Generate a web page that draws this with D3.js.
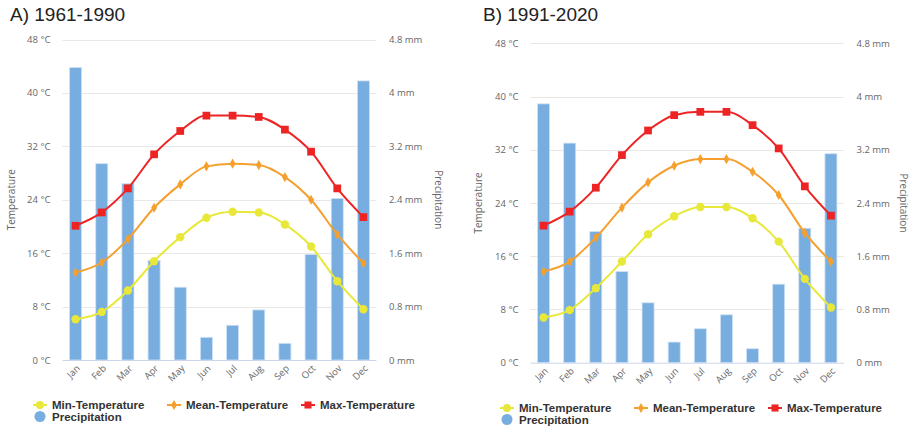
<!DOCTYPE html>
<html>
<head>
<meta charset="utf-8">
<script src="https://cdn.jsdelivr.net/npm/d3@7/dist/d3.min.js"></script>
<style>
  html, body { margin: 0; padding: 0; background: #fff; }
  svg { display: block; }
  .tick-label { font-family: "Open Sans", "DejaVu Sans", sans-serif; font-size: 9.5px; fill: #666; }
  .axis-title { font-family: "Open Sans", "DejaVu Sans", sans-serif; font-size: 10px; fill: #666; }
  .panel-title { font-family: "Liberation Sans", Arial, sans-serif; font-size: 19px; fill: #222; }
  .legend-text { font-family: "Liberation Sans", Arial, sans-serif; font-size: 11.5px; font-weight: bold; fill: #333; }
</style>
</head>
<body>
<svg id="chart" width="911" height="429"></svg>
<script>
// Monthly climate normals, two reference periods
const months = ["Jan", "Feb", "Mar", "Apr", "May", "Jun", "Jul", "Aug", "Sep", "Oct", "Nov", "Dec"];

const tempTicks = [0, 8, 16, 24, 32, 40, 48];
const precTicks = [0, 0.8, 1.6, 2.4, 3.2, 4, 4.8];

// 1961-1990
const precipA = [4.38, 2.94, 2.64, 1.49, 1.09, 0.34, 0.52, 0.75, 0.25, 1.58, 2.42, 4.18];
const minTempA = [6.1, 7.2, 10.4, 14.8, 18.4, 21.3, 22.2, 22.1, 20.3, 17.0, 11.8, 7.6];
const meanTempA = [13.1, 14.6, 18.1, 22.8, 26.3, 29.0, 29.4, 29.2, 27.4, 24.0, 18.8, 14.5];
const maxTempA = [20.1, 22.1, 25.7, 30.8, 34.3, 36.6, 36.6, 36.4, 34.5, 31.2, 25.7, 21.4];

// 1991-2020
const precipB = [3.89, 3.30, 1.97, 1.37, 0.90, 0.31, 0.51, 0.72, 0.21, 1.18, 2.02, 3.14];
const minTempB = [6.8, 7.9, 11.2, 15.2, 19.3, 22.0, 23.4, 23.4, 21.7, 18.2, 12.6, 8.3];
const meanTempB = [13.7, 15.2, 18.8, 23.3, 27.1, 29.6, 30.6, 30.6, 28.7, 25.2, 19.5, 15.2];
const maxTempB = [20.6, 22.7, 26.3, 31.2, 34.9, 37.2, 37.7, 37.7, 35.7, 32.2, 26.5, 22.1];

const colors = {
  precip: "#78addf",
  min: "#e8e83a",
  mean: "#f5a02e",
  max: "#ee2424"
};

const svg = d3.select("#chart");

function drawPanel(cfg) {
  const g = svg.append("g");

  const x = d3.scaleBand().domain(months).range([cfg.left, cfg.right]).paddingInner(0.54).paddingOuter(0.27);
  const yT = d3.scaleLinear().domain([0, 48]).range([cfg.bottom, cfg.top]);
  const yP = d3.scaleLinear().domain([0, 4.8]).range([cfg.bottom, cfg.top]);
  const cx = m => x(m) + x.bandwidth() / 2;

  // title
  g.append("text").attr("class", "panel-title")
    .attr("x", cfg.titleX).attr("y", 21).text(cfg.title);

  // gridlines
  g.append("g").selectAll("line").data(tempTicks.slice(1)).join("line")
    .attr("x1", cfg.left).attr("x2", cfg.right)
    .attr("y1", d => Math.round(yT(d)) + 0.5).attr("y2", d => Math.round(yT(d)) + 0.5)
    .attr("stroke", "#e8e8e8").attr("stroke-width", 1);

  // left axis (temperature)
  const axL = d3.axisLeft(yT).tickValues(tempTicks).tickSize(0).tickPadding(0)
    .tickFormat(d => d + " \u00b0C");
  const gl = g.append("g").attr("transform", `translate(${cfg.left - 12},0)`).call(axL);
  gl.select(".domain").remove();
  gl.selectAll("text").attr("class", "tick-label").attr("fill", null).attr("font-size", null).attr("font-family", null);

  // right axis (precipitation)
  const axR = d3.axisRight(yP).tickValues(precTicks).tickSize(0).tickPadding(0)
    .tickFormat(d => d + " mm");
  const gr = g.append("g").attr("transform", `translate(${cfg.right + 12.5},0)`).call(axR);
  gr.select(".domain").remove();
  gr.selectAll("text").attr("class", "tick-label").attr("fill", null).attr("font-size", null).attr("font-family", null);

  // axis titles
  const midY = (cfg.top + cfg.bottom) / 2;
  g.append("text").attr("class", "axis-title")
    .attr("transform", `translate(${cfg.tempTitleX},${midY}) rotate(-90)`)
    .attr("text-anchor", "middle").text("Temperature");
  g.append("text").attr("class", "axis-title")
    .attr("transform", `translate(${cfg.precTitleX},${midY}) rotate(90)`)
    .attr("text-anchor", "middle").text("Precipitation");

  // precipitation bars
  g.append("g").selectAll("rect").data(months.map((m, i) => ({ m, v: cfg.precip[i] }))).join("rect")
    .attr("x", d => x(d.m)).attr("width", x.bandwidth())
    .attr("y", d => yP(d.v)).attr("height", d => yP(0) - yP(d.v))
    .attr("fill", colors.precip).attr("stroke", "#cfe2f5").attr("stroke-width", 0.8);

  // x axis line and labels
  const axB = d3.axisBottom(x).tickSize(0).tickPadding(0);
  const gb = g.append("g").attr("transform", `translate(0,${cfg.bottom})`).call(axB);
  gb.select(".domain").attr("stroke", "#ccd6eb").attr("d", `M${cfg.left},0.5H${cfg.right}`);
  gb.selectAll("text").attr("class", "tick-label").attr("fill", null).attr("font-size", null).attr("font-family", null)
    .attr("text-anchor", "end").attr("dy", null).attr("y", 0)
    .attr("transform", "translate(5,9) rotate(-45)");

  // temperature series
  const series = [
    { key: "min", values: cfg.min, marker: "circle" },
    { key: "mean", values: cfg.mean, marker: "diamond" },
    { key: "max", values: cfg.max, marker: "square" }
  ];
  const line = d3.line().x((d, i) => cx(months[i])).y(d => yT(d)).curve(d3.curveMonotoneX);
  series.forEach(s => {
    const sg = g.append("g");
    sg.append("path").attr("d", line(s.values)).attr("fill", "none")
      .attr("stroke", colors[s.key]).attr("stroke-width", 2);
    const sym = s.marker === "circle" ? d3.symbolCircle : s.marker === "diamond" ? d3.symbolDiamond : d3.symbolSquare;
    const size = s.marker === "circle" ? 55 : s.marker === "diamond" ? 30 : 60;
    sg.selectAll("path.mk").data(s.values).join("path").attr("class", "mk")
      .attr("d", d3.symbol().type(sym).size(size))
      .attr("transform", (d, i) => `translate(${cx(months[i])},${yT(d)})`)
      .attr("fill", colors[s.key]);
  });

  // legend
  const lg = g.append("g");
  const legendItems = [
    { label: "Min-Temperature", key: "min", marker: "circle" },
    { label: "Mean-Temperature", key: "mean", marker: "diamond" },
    { label: "Max-Temperature", key: "max", marker: "square" }
  ];
  legendItems.forEach((it, i) => {
    const lx = cfg.legendX + i * 134;
    const ly = cfg.legendY;
    lg.append("line").attr("x1", lx - 19).attr("x2", lx - 5).attr("y1", ly).attr("y2", ly)
      .attr("stroke", colors[it.key]).attr("stroke-width", 2);
    const sym = it.marker === "circle" ? d3.symbolCircle : it.marker === "diamond" ? d3.symbolDiamond : d3.symbolSquare;
    const size = it.marker === "circle" ? 50 : it.marker === "diamond" ? 30 : 50;
    lg.append("path").attr("d", d3.symbol().type(sym).size(size))
      .attr("transform", `translate(${lx - 12},${ly})`).attr("fill", colors[it.key]);
    lg.append("text").attr("class", "legend-text").attr("x", lx).attr("y", ly + 4).text(it.label);
  });
  lg.append("circle").attr("cx", cfg.legendX - 12).attr("cy", cfg.legendY + 11.5).attr("r", 5.5)
    .attr("fill", colors.precip);
  lg.append("text").attr("class", "legend-text").attr("x", cfg.legendX).attr("y", cfg.legendY + 15.5)
    .text("Precipitation");
}

drawPanel({
  title: "A) 1961-1990", titleX: 10,
  left: 62.5, right: 376.5, top: 39.5, bottom: 360,
  tempTitleX: 15, precTitleX: 435,
  legendX: 52, legendY: 405,
  precip: precipA, min: minTempA, mean: meanTempA, max: maxTempA
});

drawPanel({
  title: "B) 1991-2020", titleX: 483,
  left: 530.5, right: 844, top: 43.3, bottom: 362.7,
  tempTitleX: 482, precTitleX: 900,
  legendX: 519, legendY: 408,
  precip: precipB, min: minTempB, mean: meanTempB, max: maxTempB
});
</script>
</body>
</html>
